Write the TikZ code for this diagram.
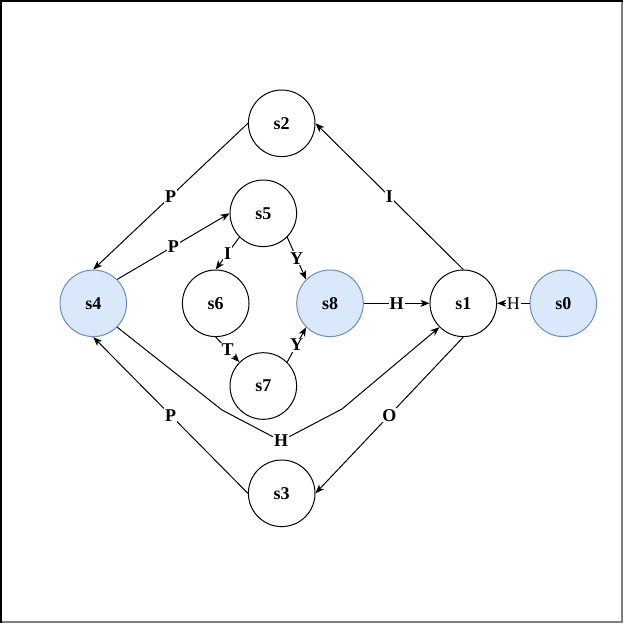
\documentclass[tikz,border=0pt]{standalone}
\usepackage{fontspec}
\setmainfont{Liberation Serif}
\usetikzlibrary{arrows.meta}
\definecolor{accfill}{HTML}{DAE8FC}
\definecolor{accline}{HTML}{6C8EBF}
\definecolor{framegray}{HTML}{7F7F7F}
\tikzset{
  state/.style={circle, draw=black, fill=white, line width=1pt,
    minimum size=66.6pt, inner sep=0pt,
    font=\fontsize{18}{20}\selectfont\bfseries},
  accept/.style={state, draw=accline, fill=accfill},
  edge/.style={draw=black, line width=1pt,
    -{Stealth[length=9pt, width=7pt, inset=2.5pt]}},
  lbl/.style={fill=white, inner sep=1pt,
    font=\fontsize{18}{20}\selectfont\bfseries},
  lblplain/.style={fill=white, inner sep=1pt,
    font=\fontsize{18}{20}\selectfont},
}
\begin{document}
\begin{tikzpicture}[x=1pt, y=-1pt]
  \useasboundingbox (0,0) rectangle (624,624);
  % outer frame: dark on top and left, grey on right and bottom
  \draw[line width=1.5pt, framegray] (622.2,0) -- (622.2,622.2) -- (0,622.2);
  \draw[line width=1.5pt] (0.75,623) -- (0.75,0.75) -- (623,0.75);

  % states
  \node[state]  (s2) at (281.7,123.3) {s2};
  \node[state]  (s5) at (263.3,213.3) {s5};
  \node[accept] (s4) at (93.3,303.3)  {s4};
  \node[state]  (s6) at (215.7,303.3) {s6};
  \node[accept] (s8) at (330,303.3)   {s8};
  \node[state]  (s1) at (463.3,303.3) {s1};
  \node[accept] (s0) at (563.3,303.3) {s0};
  \node[state]  (s7) at (263.3,386)   {s7};
  \node[state]  (s3) at (281.7,493.3) {s3};

  % bend points of the long H transition
  \coordinate (h1) at (222,410);
  \coordinate (h2) at (281,441);
  \coordinate (h3) at (342,409);

  % transitions
  \draw[edge] (s2.west) -- node[lbl] {P} (s4.north);
  \draw[edge] (s4.north east) -- node[lbl] {P} (s5.west);
  \draw[edge] (s5.south west) -- node[lbl] {I} (s6.north);
  \draw[edge] (s5.south east) -- node[lbl] {Y} (s8.north west);
  \draw[edge] (s6.south) -- node[lbl] {T} (s7.north west);
  \draw[edge] (s7.north east) -- node[lbl] {Y} (s8.south west);
  \draw[edge] (s8.east) -- node[lbl] {H} (s1.west);
  \draw[edge] (s0.west) -- node[lblplain] {H} (s1.east);
  \draw[edge] (s1.north) -- node[lbl] {I} (s2.east);
  \draw[edge] (s1.south) -- node[lbl] {O} (s3.east);
  \draw[edge] (s3.west) -- node[lbl] {P} (s4.south);
  \draw[edge] (s4.south east) -- (h1) -- (h2) -- (h3) -- (s1.south west);
  \node[lbl] (hlabel) at (h2) {H};
\end{tikzpicture}
\end{document}
